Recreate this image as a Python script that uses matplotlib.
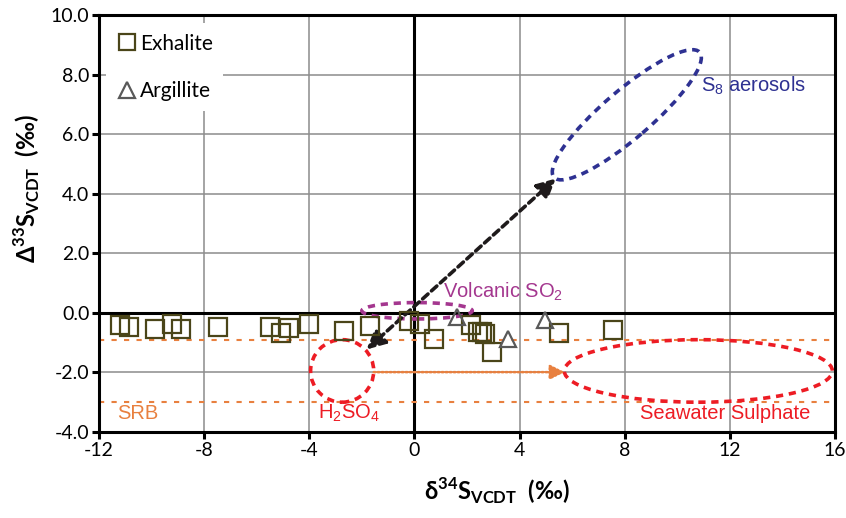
import numpy as np
import matplotlib
matplotlib.use('Agg')
import matplotlib.pyplot as plt
import matplotlib.transforms as mtransforms
from matplotlib.patches import Ellipse
from matplotlib.lines import Line2D

plt.rcParams['font.family'] = ['Lato', 'DejaVu Sans']
plt.rcParams['axes.unicode_minus'] = False
plt.rcParams['mathtext.fontset'] = 'custom'
plt.rcParams['mathtext.rm'] = 'Lato'
plt.rcParams['mathtext.bf'] = 'Lato:bold'
plt.rcParams['mathtext.sf'] = 'Liberation Sans'

#%% data
exh_d34 = [-11.22, -10.87, -9.88, -9.21, -8.88, -7.47, -5.51, -5.06, -4.78, -4.02,
           -2.69, -1.68, -0.22, 0.21, 0.73, 2.16, 2.40, 2.56, 2.68, 2.97, 5.51, 7.57]
exh_D33 = [-0.41, -0.48, -0.55, -0.39, -0.54, -0.48, -0.48, -0.69, -0.52, -0.37,
           -0.61, -0.45, -0.29, -0.37, -0.88, -0.41, -0.63, -0.65, -0.72, -1.32, -0.68, -0.59]
arg_d34 = [1.62, 3.57, 4.96]
arg_D33 = [-0.14, -0.87, -0.23]

srb_levels = [-0.9, -3.0]
x_ticks = [-12, -8, -4, 0, 4, 8, 12, 16]
y_ticks = [-4, -2, 0, 2, 4, 6, 8, 10]

# field outlines: centre x, centre y, width, height
h2so4_field = (-2.75, -1.95, 2.4, 2.1)
seawater_field = (10.8, -1.95, 10.2, 2.1)
volcanic_field = (0.1, 0.07, 4.2, 0.55)
s8_centre = (8.08, 6.65)      # S8 field is tilted, size given in inches
s8_size = (1.92, 0.48, 40.6)

mif_arrow = [(-1.82, -1.23), (5.38, 4.51)]
srb_arrow = [(-1.55, -1.99), (5.72, -1.99)]

#%% figure
fig = plt.figure(figsize=(8.46, 5.18), dpi=100)
ax = fig.add_axes([99/846, 1-432/518, 736/846, 417/518])

ax.set_xlim(-12, 16)
ax.set_ylim(-4, 10)
ax.set_xticks(x_ticks)
ax.set_yticks(y_ticks)
ax.set_yticklabels(['%.1f' % v for v in y_ticks])
ax.grid(True, color='#8c8c8c', lw=1.1, zorder=0)
ax.set_axisbelow(True)
for s in ax.spines.values():
    s.set_linewidth(2.2)
ax.tick_params(direction='out', length=5, width=2.2, labelsize=14, pad=2)
ax.axhline(0, color='black', lw=2.2, zorder=1)
ax.axvline(0, color='black', lw=2.2, zorder=1)

orange = '#e8803f'
red = '#ed1c24'
for lv in srb_levels:
    ax.axhline(lv, color=orange, lw=1.5, ls=(0, (2.5, 3.5)), zorder=1)

for (cx, cy, w, h), col in [(h2so4_field, red), (seawater_field, red),
                            (volcanic_field, '#a4378f')]:
    ax.add_patch(Ellipse((cx, cy), w, h, fill=False, ec=col, lw=2.6,
                         ls=(0, (2.0, 1.6)), zorder=2))

s8_trans = fig.dpi_scale_trans + mtransforms.ScaledTranslation(s8_centre[0], s8_centre[1], ax.transData)
ax.add_patch(Ellipse((0, 0), s8_size[0], s8_size[1], angle=s8_size[2], fill=False,
                     ec='#2e3192', lw=2.6, ls=(0, (2.0, 1.6)), transform=s8_trans, zorder=2))

ax.annotate('', xy=mif_arrow[1], xytext=mif_arrow[0],
            arrowprops=dict(arrowstyle='<|-|>', color='#1e1a1b', lw=2.6, ls=(0, (2.0, 1.3)),
                            mutation_scale=28, shrinkA=0, shrinkB=0), zorder=4)
ax.annotate('', xy=srb_arrow[1], xytext=srb_arrow[0],
            arrowprops=dict(arrowstyle='-|>', color=orange, lw=1.8, ls=(0, (0.7, 0.9)),
                            mutation_scale=22, shrinkA=0, shrinkB=0), zorder=3)

ax.plot(exh_d34, exh_D33, 's', ms=12.5, mfc='none', mec='#4a4519', mew=1.6, zorder=5)
ax.plot(arg_d34, arg_D33, '^', ms=12, mfc='none', mec='#595959', mew=1.6, zorder=5)

# labels on the fields
lab = dict(family='Liberation Sans', fontsize=14.5, va='center', ha='left')
ax.text(10.92, 7.61, r'S$_\mathsf{8}$ aerosols', color='#2e3192', **lab)
ax.text(1.08, 0.69, r'Volcanic SO$_\mathsf{2}$', color='#a4378f', **lab)
ax.text(-11.3, -3.37, 'SRB', color=orange, **lab)
ax.text(-3.67, -3.37, r'H$_\mathsf{2}$SO$_\mathsf{4}$', color=red, **lab)
ax.text(8.58, -3.37, 'Seawater Sulphate', color=red, **lab)

handles = [Line2D([], [], ls='none', marker='s', ms=11, mfc='none', mec='#4a4519', mew=1.6),
           Line2D([], [], ls='none', marker='^', ms=11, mfc='none', mec='#595959', mew=1.6)]
leg = ax.legend(handles, ['Exhalite', 'Argillite'], loc='upper left', bbox_to_anchor=(-0.005, 1.005),
                fontsize=15, labelspacing=1.3, handletextpad=0.15, handlelength=1.0,
                borderpad=0.5, frameon=True, facecolor='white', edgecolor='none', framealpha=1)

ax.set_xlabel('δ$^{\\mathbf{34}}$S$_{\\mathbf{VCDT}}$  (‰)', fontsize=17, fontweight='bold')
ax.set_ylabel('Δ$^{\\mathbf{33}}$S$_{\\mathbf{VCDT}}$  (‰)', fontsize=17, fontweight='bold')
ax.xaxis.set_label_coords(0.54, -0.105)
ax.yaxis.set_label_coords(-0.077, 0.585)

fig.savefig('out.png', dpi=100)
